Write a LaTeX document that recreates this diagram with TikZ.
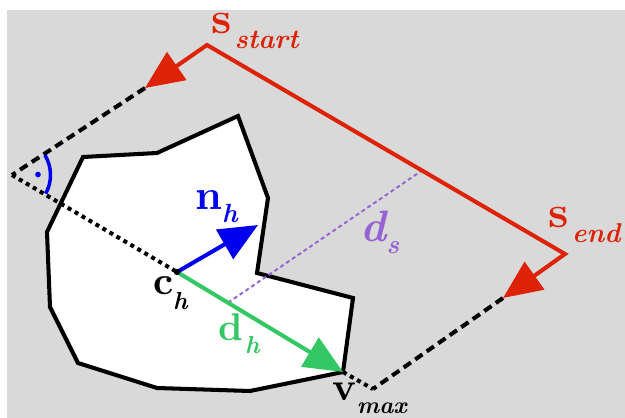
\documentclass[tikz,border=0pt]{standalone}
\usepackage{graphicx}
\usetikzlibrary{arrows.meta}
\definecolor{bggray}{RGB}{217,217,217}
\definecolor{myred}{RGB}{222,34,6}
\definecolor{myblue}{RGB}{0,0,238}
\definecolor{mygreen}{RGB}{51,200,100}
\definecolor{mypurple}{RGB}{150,100,210}
% #1 distance to subscript, #2 main scale, #3 main letter, #4 drop, #5 sub scale, #6 subscript
\newcommand{\mylab}[6]{\makebox[#1][l]{\scalebox{#2}{\bfseries #3}}\raisebox{-#4}{\scalebox{#5}{\bfseries\itshape #6}}}
\begin{document}
\begin{tikzpicture}[x=0.02cm,y=-0.02cm,
  lab/.style={anchor=base west,inner sep=0pt,outer sep=0pt},
  thickline/.style={line width=2.3pt},
  edgeline/.style={line width=2.3pt,line join=miter},
  dashline/.style={line width=2.3pt,dash pattern=on 5pt off 3pt},
  dotline/.style={line width=2.3pt,dash pattern=on 2.3pt off 2.3pt},
  dsline/.style={line width=1.1pt,mypurple,dash pattern=on 2.3pt off 1.7pt},
  bigtip/.tip={Triangle[length=22pt,width=19pt]}]
\useasboundingbox (0,0) rectangle (625,418);
\fill[white] (0,0) rectangle (625,418);
\fill[bggray] (7,10) rectangle (625,418);
% points
\coordinate (corner) at (12,175);
\coordinate (ch) at (177,272);
\coordinate (nh) at (258,225);
\coordinate (vmax) at (343,372);
\coordinate (ss) at (207,45);
\coordinate (se) at (565,254);
\coordinate (a1) at (145,88);
\coordinate (a2) at (503,298);
\coordinate (b) at (373,389);
\coordinate (ds1) at (228,302.7);
\coordinate (ds2) at (422,170.5);
% polygon
\draw[edgeline,fill=white] (83,157) -- (157,153) -- (238,116) -- (268,198) -- (257,273) -- (353,298) -- (vmax) -- (250,391) -- (157,388) -- (78,363) -- (50,307) -- (47,232) -- cycle;
% construction lines
\draw[dotline] (corner) -- (ch);
\draw[dashline] (a1) -- (corner);
\draw[dashline] (a2) -- (b);
\draw[dotline] (vmax) -- (b);
\draw[dsline] (ds1) -- (ds2);
% right angle mark
\draw[myblue,line width=2pt] ([shift={(-29:0.77cm)}]corner) arc[start angle=-29,end angle=31,radius=0.77cm];
\fill[myblue] ([shift={(1:0.52cm)}]corner) circle (1.6pt);
% red path
\draw[thickline,myred,line join=miter,{bigtip}-{bigtip}] (a1) -- (ss) -- (se) -- (a2);
% vectors
\draw[thickline,mygreen,-{bigtip}] (ch) -- (vmax);
\draw[thickline,myblue,-{bigtip}] (ch) -- (nh);
\fill (ch) circle (1.8pt);
% labels
\node[lab,text=myred] (lsstart) at (211,34) {\mylab{13.4pt}{2.55}{s}{8pt}{1.55}{start}};
\node[lab,text=myred] (lsend) at (548,228) {\mylab{13.7pt}{2.55}{s}{8pt}{1.55}{end}};
\node[lab,text=myblue] (lnh) at (195,210) {\mylab{15.4pt}{2.4}{n}{7.4pt}{1.5}{h}};
\node[lab,text=black] (lch) at (153,295) {\mylab{11.4pt}{2.25}{c}{8.5pt}{1.4}{h}};
\node[lab,text=mygreen] (ldh) at (218,340) {\mylab{15.4pt}{2.2}{d}{7.4pt}{1.4}{h}};
\node[lab,text=mypurple] (lds) at (360,242) {\mylab{15pt}{2.5}{\itshape d}{6.8pt}{1.5}{s}};
\node[lab,text=black] (lvmax) at (332,400) {\mylab{14.2pt}{2.25}{v}{7.4pt}{1.35}{max}};
\end{tikzpicture}
\end{document}
